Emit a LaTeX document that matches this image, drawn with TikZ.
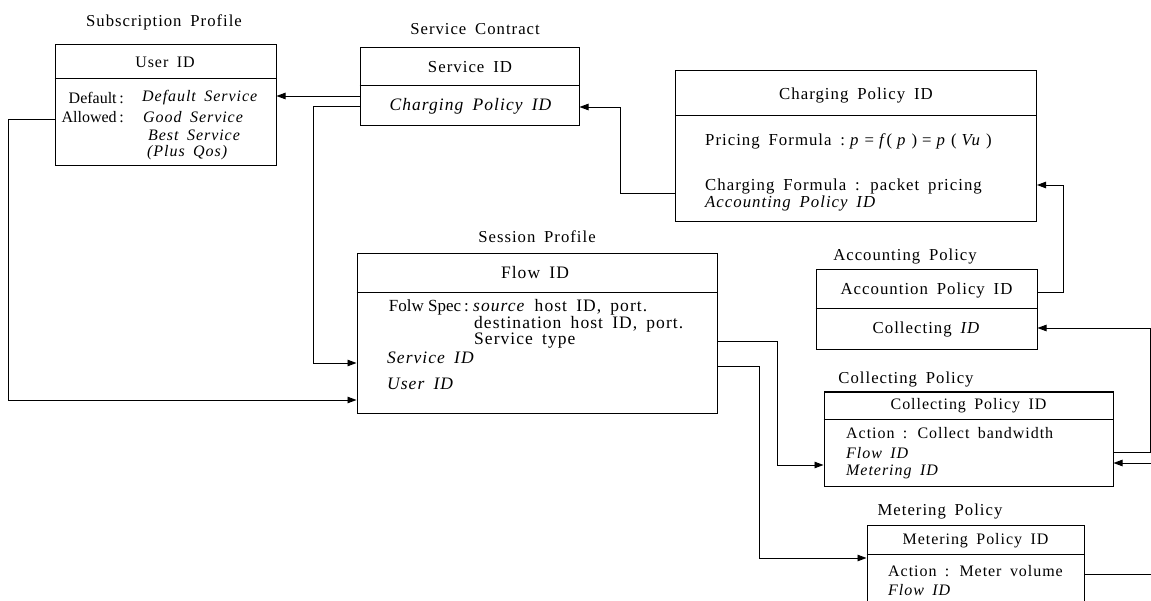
\documentclass[tikz,border=0pt]{standalone}
\usepackage{fontspec}
\setmainfont{Liberation Serif}[LetterSpace=6,WordSpace=1.7]
\newfontfamily\plainserif{Liberation Serif}
\usetikzlibrary{arrows.meta}
\newcommand\fsp{\hspace{5pt}}
\begin{document}
\begin{tikzpicture}[x=1pt,y=-1pt,
  box/.style={draw,line width=1pt,inner sep=0pt},
  conn/.style={draw,line width=0.9pt},
  arr/.style={conn,-{Triangle[length=9pt,width=6.5pt]}},
  txt/.style={inner sep=0pt,font=\fontsize{16.8}{20}\selectfont},
  txs/.style={inner sep=0pt,font=\fontsize{16}{19}\selectfont},
  lbl/.style={inner sep=0pt,font=\plainserif\fontsize{16}{19}\selectfont},
  lbll/.style={inner sep=0pt,font=\plainserif\fontsize{17}{21}\selectfont},
  txl/.style={inner sep=0pt,font=\fontsize{17.5}{21}\selectfont},
  ttl/.style={inner sep=0pt,font=\fontsize{16.7}{20}\selectfont}]
\clip (0,0) rectangle (1151,601);
\useasboundingbox (0,0) rectangle (1151,601);
\fill[white] (0,0) rectangle (1151,601);

% boxes
\node[box,minimum width=221pt,minimum height=121pt] (sub) at (165.5,105.5) {};
\node[box,minimum width=219pt,minimum height=78pt] (sc) at (469.5,87) {};
\node[box,minimum width=361pt,minimum height=151pt] (cp) at (856,146.5) {};
\node[box,minimum width=360pt,minimum height=159pt] (sp) at (537,333.5) {};
\node[box,minimum width=221pt,minimum height=80pt] (ap) at (926.5,310) {};
\node[box,minimum width=289pt,minimum height=94pt] (colp) at (968.5,439) {};
\node[box,minimum width=217pt,minimum height=115pt] (mp) at (975.5,582.5) {};

% dividers
\draw[line width=1pt] (sub.west |- 0,79) -- (sub.east |- 0,79);
\draw[line width=1pt] (sc.west |- 0,86) -- (sc.east |- 0,86);
\draw[line width=1pt] (cp.west |- 0,116) -- (cp.east |- 0,116);
\draw[line width=1pt] (sp.west |- 0,293) -- (sp.east |- 0,293);
\draw[line width=1pt] (ap.west |- 0,309) -- (ap.east |- 0,309);
\draw[line width=1pt] (colp.west |- 0,419) -- (colp.east |- 0,419);
\draw[line width=1pt] (mp.west |- 0,554) -- (mp.east |- 0,554);

% titles
\node[ttl] (t1) at (164,22) {Subscription Profile};
\node[ttl] (t2) at (475,29) {Service Contract};
\node[ttl] (t3) at (537,237) {Session Profile};
\node[ttl] (t4) at (905,257) {Accounting Policy};
\node[ttl] (t5) at (906,380) {Collecting Policy};
\node[ttl] (t6) at (940,512) {Metering Policy};

% subscription profile
\node[txs] (s0) at (165,62) {User ID};
\node[lbl,anchor=east] (s1a) at (124,98) {Default\,:};
\node[txs,anchor=west] (s1b) at (142,98) {\textit{Default Service}};
\node[lbl,anchor=east] (s2a) at (124,117) {Allowed\,:};
\node[txs,anchor=west] (s2b) at (143,117) {\textit{Good Service}};
\node[txs,anchor=west] (s3) at (148,135) {\textit{Best Service}};
\node[txs,anchor=west] (s4) at (147,153) {\textit{(Plus Qos)}};

% service contract
\node[txt] (c0) at (470,67) {Service ID};
\node[txl] (c1) at (471,106) {\textit{Charging Policy ID}};

% charging policy
\node[txt] (p0) at (856,95) {Charging Policy ID};
\node[txt,anchor=west] (p1) at (705,141) {Pricing Formula :\fsp\textit{p}\fsp=\fsp\textit{f}(\fsp\textit{p}\fsp)\fsp=\fsp\textit{p}\fsp(\fsp\textit{Vu}\fsp)};
\node[txt,anchor=west] (p2) at (705,186) {Charging Formula : packet pricing};
\node[txt,anchor=west] (p3) at (705,203) {\textit{Accounting Policy ID}};

% session profile
\node[txl] (f0) at (535,273) {Flow ID};
\node[lbll,anchor=east] (f1a) at (469,307) {Folw Spec\,:};
\node[txl,anchor=west] (f1) at (473,307) {\textit{source} host ID, port.};
\node[txl,anchor=west] (f2) at (474,324) {destination host ID, port.};
\node[txl,anchor=west] (f3) at (474,341) {Service type};
\node[txl,anchor=west] (f4) at (387,358) {\textit{Service ID}};
\node[txl,anchor=west] (f5) at (387,384) {\textit{User ID}};

% accounting policy
\node[txt] (a0) at (926.5,290) {Accountion Policy ID};
\node[txt] (a1) at (926.5,329) {Collecting \textit{ID}};

% collecting policy
\node[txs] (k0) at (968.5,406) {Collecting Policy ID};
\node[txs,anchor=west] (k1) at (846,433) {Action : Collect bandwidth};
\node[txs,anchor=west] (k2) at (846,453) {\textit{Flow ID}};
\node[txs,anchor=west] (k3) at (846,472) {\textit{Metering ID}};

% metering policy
\node[txs] (m0) at (975.5,541) {Metering Policy ID};
\node[txs,anchor=west] (m1) at (888,571) {Action : Meter volume};
\node[txs,anchor=west] (m2) at (888,590) {\textit{Flow ID}};

% edge coordinates
\coordinate (e1) at (1151,574);
\coordinate (e2) at (1151,463);

% connectors
\draw[arr] (sc.west |- 0,96) -- (sub.east |- 0,96);
\draw[arr] (sc.west |- 0,106) -- (313,106) -- (313,363) -- (sp.west |- 0,363);
\draw[arr] (sub.west |- 0,119) -- (8,119) -- (8,400) -- (sp.west |- 0,400);
\draw[arr] (cp.west |- 0,193) -- (620,193) -- (620,107) -- (sc.east |- 0,107);
\draw[arr] (ap.east |- 0,292) -- (1063,292) -- (1063,185) -- (cp.east |- 0,185);
\draw[arr] (colp.east |- 0,452) -- (1150,452) -- (1150,328) -- (ap.east |- 0,328);
\draw[arr] (sp.east |- 0,341) -- (777,341) -- (777,465) -- (colp.west |- 0,465);
\draw[arr] (sp.east |- 0,366) -- (759,366) -- (759,558) -- (mp.west |- 0,558);
\draw[conn] (mp.east |- 0,574) -- (e1);
\draw[arr] (e2) -- (colp.east |- 0,463);
\end{tikzpicture}
\end{document}
